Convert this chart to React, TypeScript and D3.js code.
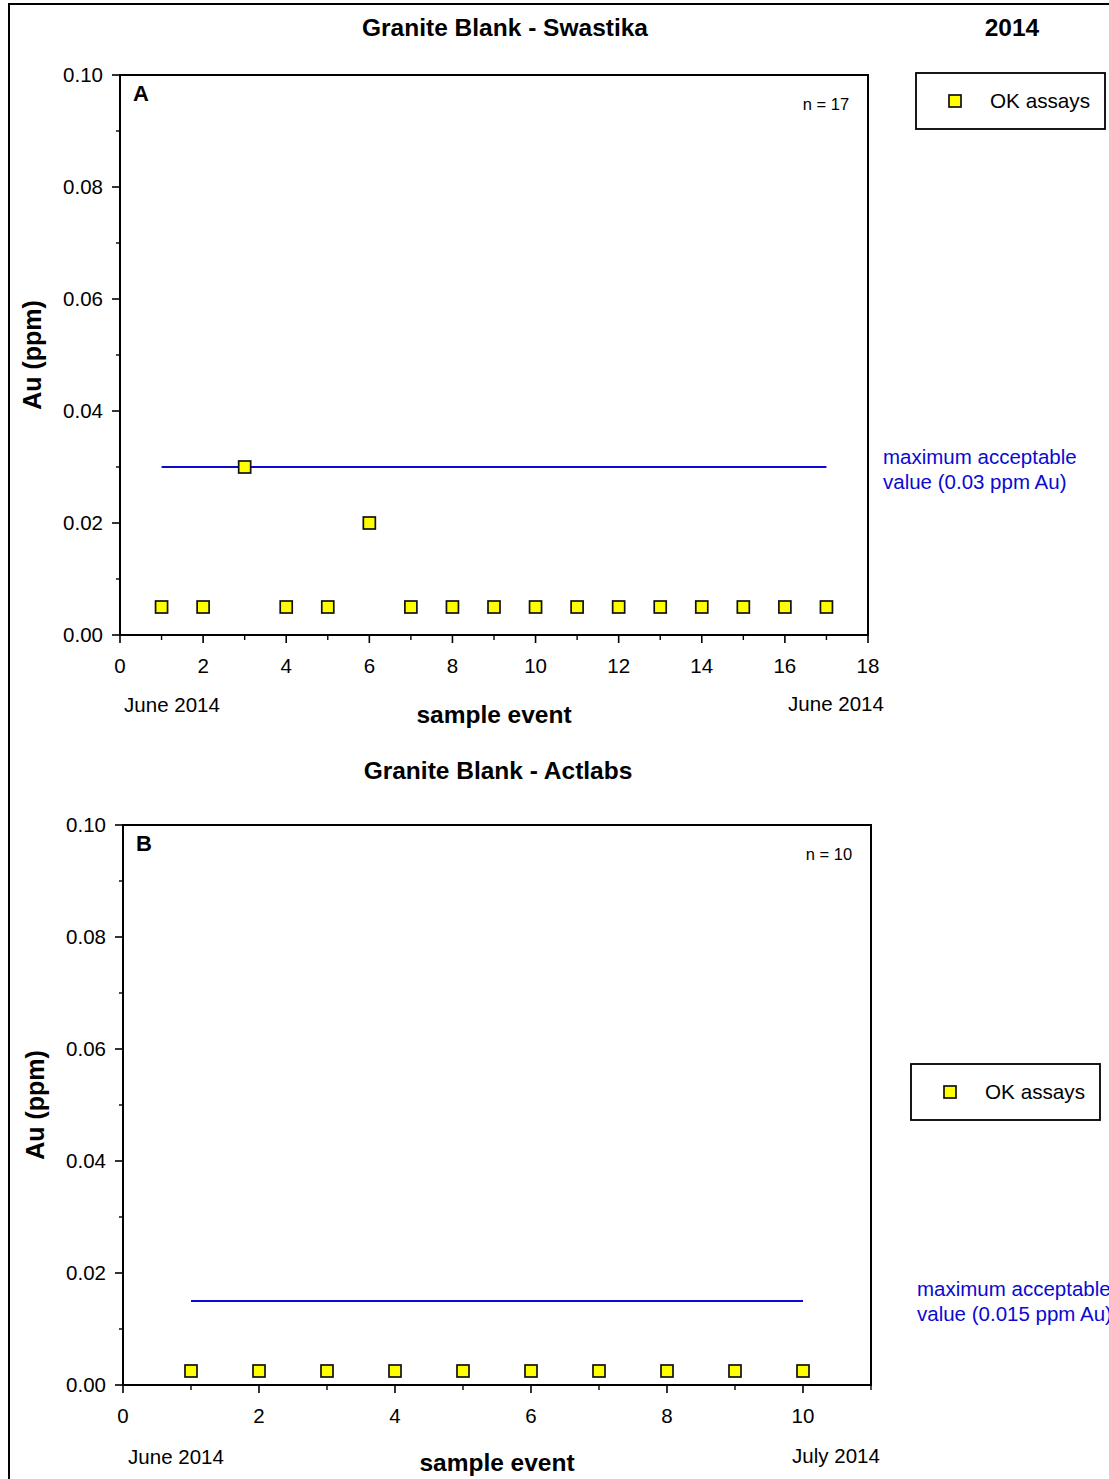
import React from "react";
import * as d3 from "d3";

const W = 1109;
const H = 1479;

// Panel A (Swastika)
const eventsA = [1, 2, 3, 4, 5, 6, 7, 8, 9, 10, 11, 12, 13, 14, 15, 16, 17];
const valuesA = [0.005, 0.005, 0.03, 0.005, 0.005, 0.02, 0.005, 0.005, 0.005, 0.005, 0.005, 0.005, 0.005, 0.005, 0.005, 0.005, 0.005];
const limitA = 0.03;
const xTicksA = [0, 2, 4, 6, 8, 10, 12, 14, 16, 18];

// Panel B (Actlabs)
const eventsB = [1, 2, 3, 4, 5, 6, 7, 8, 9, 10];
const valuesB = [0.0025, 0.0025, 0.0025, 0.0025, 0.0025, 0.0025, 0.0025, 0.0025, 0.0025, 0.0025];
const limitB = 0.015;
const xTicksB = [0, 2, 4, 6, 8, 10];

const yTicks = [0, 0.02, 0.04, 0.06, 0.08, 0.1];

const FONT = "'Liberation Sans', Arial, sans-serif";
const BLUE = "#0a0ad2";

type PanelProps = {
  x0: number; x1: number; y0: number; y1: number;
  xMax: number; xTicks: number[];
  events: number[]; values: number[]; limit: number;
  letter: string; nLabel: string;
  title: string; titleX: number; titleY: number;
  leftDate: string; rightDate: string; dateY: number; leftDateX: number; rightDateX: number;
  sampleX: number; sampleY: number; yLabelX: number;
  legendX: number; legendY: number;
  limitTextX: number; limitTextY: number; limitLabel: string;
};

function Panel(p: PanelProps) {
  const x = d3.scaleLinear().domain([0, p.xMax]).range([p.x0, p.x1]);
  const y = d3.scaleLinear().domain([0, 0.1]).range([p.y1, p.y0]);
  const minorX = d3.range(1, p.xMax + 1, 2);
  const minorY = d3.range(0.01, 0.1, 0.02);
  const ms = 12;
  const first = p.events[0];
  const last = p.events[p.events.length - 1];
  return (
    <g fontFamily={FONT}>
      <text x={p.titleX} y={p.titleY} textAnchor="middle" fontWeight="bold" fontSize={24.5}>{p.title}</text>
      {/* limit line */}
      <line x1={x(first)} x2={x(last)} y1={y(p.limit)} y2={y(p.limit)} stroke={BLUE} strokeWidth={1.8} />
      {/* points */}
      {p.events.map((e, i) => (
        <rect key={i} x={x(e) - ms / 2} y={y(p.values[i]) - ms / 2} width={ms} height={ms}
          fill="#ffff00" stroke="#111" strokeWidth={1.7} />
      ))}
      {/* frame */}
      <rect x={p.x0} y={p.y0} width={p.x1 - p.x0} height={p.y1 - p.y0} fill="none" stroke="#000" strokeWidth={2} />
      {/* y ticks */}
      {yTicks.map((t) => (
        <g key={"y" + t}>
          <line x1={p.x0 - 8} x2={p.x0} y1={y(t)} y2={y(t)} stroke="#000" strokeWidth={1.6} />
          <text x={p.x0 - 17} y={y(t) + 7} textAnchor="end" fontSize={20.5}>{t.toFixed(2)}</text>
        </g>
      ))}
      {minorY.map((t) => (
        <line key={"my" + t} x1={p.x0 - 4} x2={p.x0} y1={y(t)} y2={y(t)} stroke="#000" strokeWidth={1.4} />
      ))}
      {/* x ticks */}
      {p.xTicks.map((t) => (
        <g key={"x" + t}>
          <line x1={x(t)} x2={x(t)} y1={p.y1} y2={p.y1 + 8} stroke="#000" strokeWidth={1.6} />
          <text x={x(t)} y={p.y1 + 38} textAnchor="middle" fontSize={20.5}>{t}</text>
        </g>
      ))}
      {minorX.map((t) => (
        <line key={"mx" + t} x1={x(t)} x2={x(t)} y1={p.y1} y2={p.y1 + 5} stroke="#000" strokeWidth={1.4} />
      ))}
      {/* labels */}
      <text x={p.x0 + 13} y={p.y0 + 26} fontWeight="bold" fontSize={22}>{p.letter}</text>
      <text x={p.x1 - 42} y={p.y0 + 35} textAnchor="middle" fontSize={16.5}>{p.nLabel}</text>
      <text transform={`translate(${p.yLabelX},${(p.y0 + p.y1) / 2}) rotate(-90)`} textAnchor="middle" fontWeight="bold" fontSize={25}>Au (ppm)</text>
      <text x={p.sampleX} y={p.sampleY} textAnchor="middle" fontWeight="bold" fontSize={24.5}>sample event</text>
      <text x={p.leftDateX} y={p.dateY} textAnchor="middle" fontSize={20.5}>{p.leftDate}</text>
      <text x={p.rightDateX} y={p.dateY - 1} textAnchor="middle" fontSize={20.5}>{p.rightDate}</text>
      {/* legend */}
      <rect x={p.legendX} y={p.legendY} width={189} height={56} fill="#fff" stroke="#000" strokeWidth={1.8} />
      <rect x={p.legendX + 33} y={p.legendY + 22} width={12} height={12} fill="#ffff00" stroke="#111" strokeWidth={1.7} />
      <text x={p.legendX + 74} y={p.legendY + 35} fontSize={20.7}>OK assays</text>
      {/* limit text */}
      <text x={p.limitTextX} y={p.limitTextY} fill={BLUE} fontSize={20.5}>maximum acceptable</text>
      <text x={p.limitTextX} y={p.limitTextY + 25} fill={BLUE} fontSize={20.5}>{p.limitLabel}</text>
    </g>
  );
}

export default function App() {
  return (
    <svg width={W} height={H} style={{ position: "absolute", left: 0, top: 0, display: "block", background: "#fff" }}>
      <rect x={0} y={0} width={W} height={H} fill="#fff" />
      <rect x={9} y={4} width={W + 20} height={H + 20} fill="none" stroke="#000" strokeWidth={2} />
      <text x={1012} y={36} textAnchor="middle" fontWeight="bold" fontSize={24.5} fontFamily={FONT}>2014</text>
      <Panel x0={120} x1={868} y0={75} y1={635} xMax={18} xTicks={xTicksA}
        events={eventsA} values={valuesA} limit={limitA} letter="A" nLabel="n = 17"
        title="Granite Blank - Swastika" titleX={505} titleY={36}
        leftDate="June 2014" rightDate="June 2014" dateY={712} leftDateX={172} rightDateX={836}
        sampleX={494} sampleY={723} yLabelX={41}
        legendX={916} legendY={73}
        limitTextX={883} limitTextY={464} limitLabel="value (0.03 ppm Au)" />
      <Panel x0={123} x1={871} y0={825} y1={1385} xMax={11} xTicks={xTicksB}
        events={eventsB} values={valuesB} limit={limitB} letter="B" nLabel="n = 10"
        title="Granite Blank - Actlabs" titleX={498} titleY={779}
        leftDate="June 2014" rightDate="July 2014" dateY={1464} leftDateX={176} rightDateX={836}
        sampleX={497} sampleY={1471} yLabelX={44}
        legendX={911} legendY={1064}
        limitTextX={917} limitTextY={1296} limitLabel="value (0.015 ppm Au)" />
    </svg>
  );
}
